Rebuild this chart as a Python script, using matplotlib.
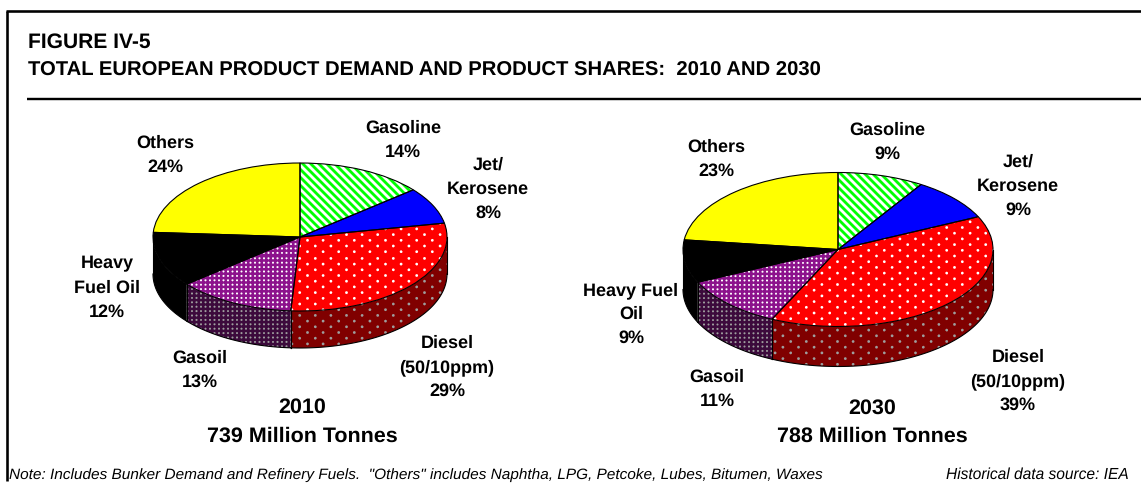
import numpy as np
import matplotlib
matplotlib.use('Agg')
import matplotlib.pyplot as plt

DPI = 100
WIDTH = 1141
HEIGHT = 483

plt.rcParams['font.family'] = ['Liberation Sans', 'DejaVu Sans']
plt.rcParams['text.hinting'] = 'no_hinting'

products = ['Gasoline', 'Jet/Kerosene', 'Diesel', 'Gasoil', 'Heavy Fuel Oil', 'Others']
shares_2010 = [14, 8, 29, 13, 12, 24]
shares_2030 = [9, 9, 39, 11, 9, 23]

face_colors = ['#00ff00', '#0000ff', '#ff0000', '#8c128c', '#000000', '#ffff00']
side_colors = ['#008000', '#000080', '#800000', '#3c0a3c', '#000000', '#808000']
patterns = ['stripes', None, 'wide dots', 'fine dots', None, None]

def px(size):
    return size * 72.0 / DPI

def make_texture(kind, w, h, rgb):
    # pixel pattern with transparent background, laid over a slice
    y, x = np.mgrid[0:h, 0:w]
    if kind == 'stripes':
        phase = ((x - y) % 8) / 8.0
        alpha = np.clip(4.0 * np.abs(phase - 0.5) - 0.5, 0, 1)
    else:
        if kind == 'wide dots':
            dx, dy, radius = 7.8, 11.4, 1.35
            shift = dy / 2
        else:
            dx, dy, radius = 4.5, 4.4, 1.0
            shift = 0
        col = np.round(x / dx)
        off = shift * (col % 2)
        row = np.round((y - off) / dy)
        alpha = np.clip(radius + 0.5 - np.hypot(x - col * dx, y - off - row * dy), 0, 1)
    texture = np.zeros((h, w, 4))
    texture[..., :3] = rgb
    texture[..., 3] = alpha
    return texture

def add_texture(ax, kind, rgb, clip_patch, zorder, w, h):
    extent = (*ax.get_xlim(), *ax.get_ylim())
    image = ax.imshow(make_texture(kind, w, h, rgb), extent = extent, origin = 'upper',
                      aspect = 'auto', interpolation = 'nearest', zorder = zorder)
    image.set_clip_path(clip_patch)

def plot_pie(figure, shares, cx, cy, rx, ry, depth):
    pad = 2.0
    w = int(round(2 * rx + 2 * pad))
    h = int(round(2 * ry + depth + 2 * pad))
    left = (cx - rx - pad) / WIDTH
    bottom = (HEIGHT - cy - ry - depth - pad) / HEIGHT
    ax = figure.add_axes([left, bottom, w / WIDTH, h / HEIGHT])

    stops = np.cumsum([0] + shares) * 3.6
    drop = depth / ry

    wedges, _ = ax.pie(shares, colors = face_colors, startangle = 90, counterclock = False,
                       wedgeprops = { 'linewidth' : 0, 'zorder' : 3 })
    outlines, _ = ax.pie(shares, colors = ['none'] * len(shares), startangle = 90, counterclock = False,
                         wedgeprops = { 'linewidth' : px(1.1), 'edgecolor' : 'k', 'zorder' : 5 })

    ax.set_aspect('auto')
    ax.set_xlim(-1 - pad / rx, 1 + pad / rx)
    ax.set_ylim(-1 - drop - pad / ry, 1 + pad / ry)

    for i, wedge in enumerate(wedges):
        if patterns[i]:
            add_texture(ax, patterns[i], (1, 1, 1), wedge, 4, w, h)

    # front wall of the disc, only what faces the viewer
    for i in range(len(shares)):
        start = max(stops[i], 90)
        end = min(stops[i + 1], 270)
        if end <= start:
            continue
        theta = np.radians(np.linspace(start, end, 80))
        x = np.sin(theta)
        y = np.cos(theta)
        wall = ax.fill(np.r_[x, x[::-1]], np.r_[y, y[::-1] - drop], facecolor = side_colors[i],
                       edgecolor = 'none', zorder = 1)[0]
        if patterns[i]:
            add_texture(ax, patterns[i], (0.62, 0.62, 0.62), wall, 1.5, w, h)
        ax.plot(x, y - drop, color = 'k', linewidth = px(1.1), zorder = 2)
        ax.plot([x[0], x[0]], [y[0], y[0] - drop], color = 'k', linewidth = px(1.1), zorder = 2)
        ax.plot([x[-1], x[-1]], [y[-1], y[-1] - drop], color = 'k', linewidth = px(1.1), zorder = 2)

    ax.set_xlim(-1 - pad / rx, 1 + pad / rx)
    ax.set_ylim(-1 - drop - pad / ry, 1 + pad / ry)
    ax.axis('off')

figure = plt.figure(figsize = (WIDTH / DPI, HEIGHT / DPI), dpi = DPI, facecolor = 'white')

# overlay for frame and text, in picture pixels
page = figure.add_axes([0, 0, 1, 1], zorder = 5)
page.set_xlim(0, WIDTH)
page.set_ylim(HEIGHT, 0)
page.axis('off')
page.patch.set_alpha(0)

page.plot([7, 7], [11, 481], color = 'k', linewidth = px(2.6), solid_capstyle = 'butt')
page.plot([5.7, WIDTH], [11, 11], color = 'k', linewidth = px(2.6), solid_capstyle = 'butt')
page.plot([27, WIDTH], [99.3, 99.3], color = 'k', linewidth = px(2.4), solid_capstyle = 'butt')

plot_pie(figure, shares_2010, 300, 237, 147, 74, 37)
plot_pie(figure, shares_2030, 838, 249.5, 155, 77, 40)

page.text(28, 42, 'FIGURE IV-5', fontsize = px(21), fontweight = 'bold', va = 'center')
page.text(28, 71, 'TOTAL EUROPEAN PRODUCT DEMAND AND PRODUCT SHARES:  2010 AND 2030',
          fontsize = px(20.27), fontweight = 'bold', va = 'center')

def label(x, y, text, size = 18, spacing = 1.55):
    page.text(x, y, text, fontsize = px(size), fontweight = 'bold', ha = 'center', va = 'center',
              multialignment = 'center', linespacing = spacing)

label(165, 155.5, 'Others\n24%')
label(403, 140, 'Gasoline\n14%')
label(488, 189, 'Jet/\nKerosene\n8%')
label(447, 367.5, 'Diesel\n(50/10ppm)\n29%')
label(200, 370.5, 'Gasoil\n13%')
label(107, 288, 'Heavy\nFuel Oil\n12%')
label(302, 421.5, '2010\n739 Million Tonnes', 21.5, 1.6)

label(716, 159.5, 'Others\n23%')
label(887, 142, 'Gasoline\n9%')
label(1018, 186, 'Jet/\nKerosene\n9%')
label(1018, 381.5, 'Diesel\n(50/10ppm)\n39%')
label(717, 389.5, 'Gasoil\n11%')
label(631, 314.5, 'Heavy Fuel\nOil\n9%')
label(872, 422.5, '2030\n788 Million Tonnes', 21.5, 1.6)

page.text(9, 475, 'Note: Includes Bunker Demand and Refinery Fuels.  "Others" includes Naphtha, LPG, Petcoke, Lubes, Bitumen, Waxes',
          fontsize = px(15.42), fontstyle = 'italic', va = 'center')
page.text(1129, 475, 'Historical data source: IEA', fontsize = px(15.5), fontstyle = 'italic', va = 'center', ha = 'right')

figure.savefig('out.png', dpi = DPI)
